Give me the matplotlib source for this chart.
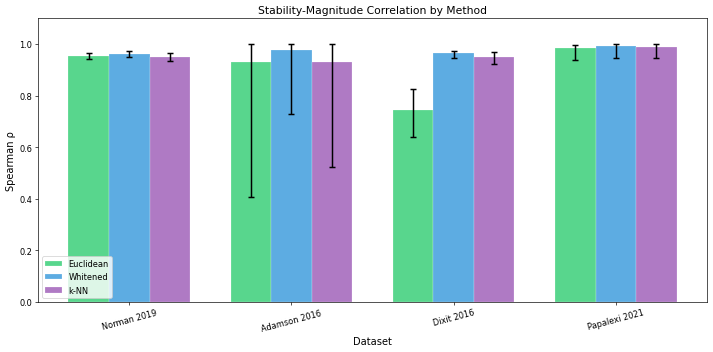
import matplotlib
matplotlib.use("Agg")
import matplotlib.pyplot as plt
import numpy as np

datasets = ["Norman 2019", "Adamson 2016", "Dixit 2016", "Papalexi 2021"]
methods = ["Euclidean", "Whitened", "k-NN"]
colors = ["#2ecc71", "#3498db", "#9b59b6"]

euclidean = [0.952, 0.929, 0.744, 0.983]
euclidean_lo = [0.940, 0.406, 0.641, 0.938]
euclidean_hi = [0.966, 1.000, 0.826, 0.997]

whitened = [0.962, 0.975, 0.964, 0.991]
whitened_lo = [0.951, 0.729, 0.944, 0.944]
whitened_hi = [0.973, 1.000, 0.974, 1.000]

knn = [0.950, 0.929, 0.948, 0.987]
knn_lo = [0.935, 0.522, 0.921, 0.944]
knn_hi = [0.965, 1.000, 0.968, 1.000]

series = [(euclidean, euclidean_lo, euclidean_hi),
          (whitened, whitened_lo, whitened_hi),
          (knn, knn_lo, knn_hi)]

fig, ax = plt.subplots(figsize=(12, 5.94), dpi=59.42)
x = np.arange(len(datasets))
w = 0.25
for i, ((vals, lo, hi), name, c) in enumerate(zip(series, methods, colors)):
    vals = np.array(vals); lo = np.array(lo); hi = np.array(hi)
    yerr = np.vstack([vals - lo, hi - vals])
    ax.bar(x + (i - 1) * w, vals, w, yerr=yerr, capsize=4, label=name,
           color=c, alpha=0.8, edgecolor="white", linewidth=0.3,
           error_kw=dict(ecolor="black", elinewidth=1.8, capthick=1.8))

ax.set_ylim(0, 1.1)
ax.set_xticks(x)
ax.set_xticklabels(datasets, rotation=15, fontsize=10)
ax.tick_params(axis="y", labelsize=10)
ax.set_xlabel("Dataset", fontsize=12)
ax.set_ylabel("Spearman ρ", fontsize=12)
ax.set_title("Stability-Magnitude Correlation by Method", fontsize=13)
ax.legend(loc="lower left", fontsize=10)
fig.subplots_adjust(left=0.0533, right=0.9916, top=0.946, bottom=0.1416)
fig.savefig("out.png")
